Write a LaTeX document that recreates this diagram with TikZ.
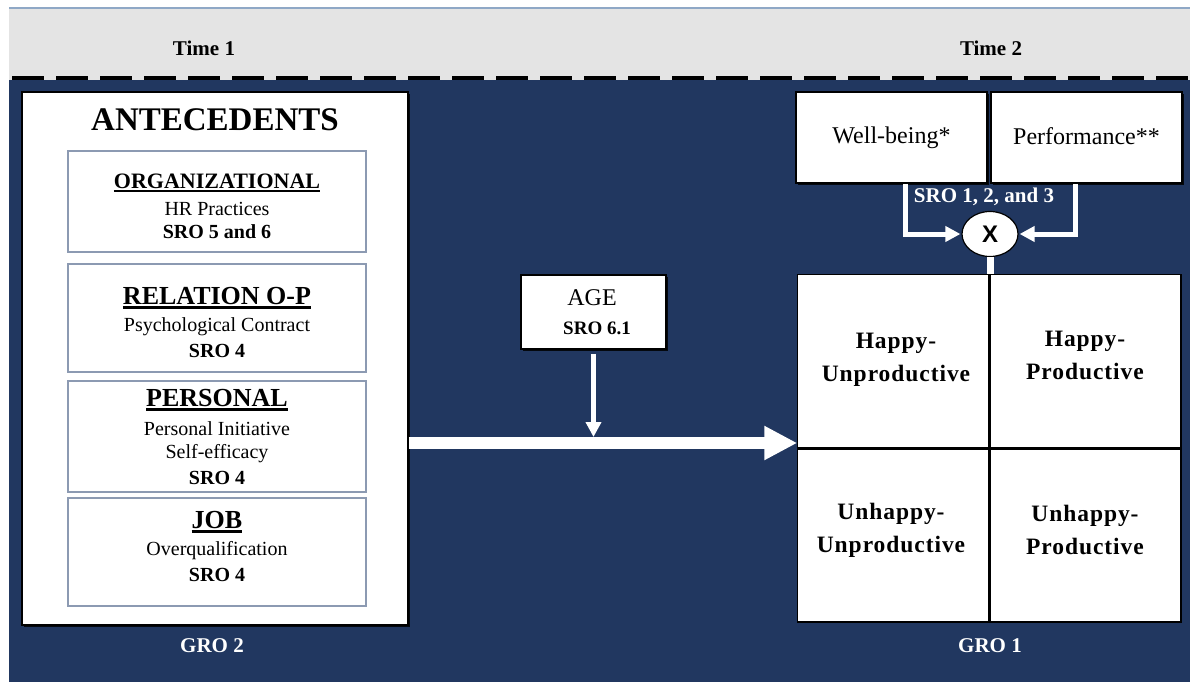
\documentclass[tikz,border=0pt]{standalone}
\usepackage{fontspec}
\setmainfont{Liberation Serif}
\newfontfamily\xsansfont{Liberation Sans}
\newfontfamily\spacedserif[LetterSpace=4]{Liberation Serif}
\usetikzlibrary{arrows.meta,shadows,shapes.geometric}
\definecolor{navy}{HTML}{213760}
\definecolor{bandgray}{HTML}{E4E4E4}
\definecolor{topedge}{HTML}{8FA8C6}
\definecolor{subedge}{HTML}{8C9AB2}
\newcommand\hdrul[1]{\setbox0\hbox{#1}\rlap{\rule[-4pt]{\wd0}{2.2pt}}\box0}
\tikzset{
  mainbox/.style={draw=black, line width=1.5pt, fill=white, inner sep=0pt,
    drop shadow={shadow xshift=2pt, shadow yshift=-2pt, fill=black, opacity=0.85}},
  subbox/.style={draw=subedge, line width=2pt, fill=white, inner sep=0pt, minimum width=298pt},
  cell/.style={draw=black, line width=1.5pt, fill=white, inner sep=0pt, minimum width=191pt, minimum height=173pt},
  txt/.style={inner sep=0pt, anchor=center},
  hdr/.style={txt, font=\fontsize{26}{28}\selectfont\bfseries},
  sub/.style={txt, font=\fontsize{20}{22}\selectfont},
  sro/.style={txt, font=\fontsize{20}{22}\selectfont\bfseries},
  timelab/.style={txt, font=\fontsize{21}{23}\selectfont\bfseries},
  whitelab/.style={txt, text=white, font=\fontsize{21}{23}\selectfont\bfseries},
  quadtxt/.style={txt, align=center, font=\fontsize{23.5}{33}\spacedserif\bfseries},
  conn/.style={draw=white, line width=5pt, -{Triangle[length=15pt,width=15pt]}},
  bigarrow/.style={draw=white, line width=12pt, -{Triangle[length=33pt,width=32pt]}}
}
\begin{document}
\begin{tikzpicture}[x=1pt,y=-1pt]
\useasboundingbox (0,0) rectangle (1190,682);
\fill[white] (0,0) rectangle (1190,682);
% header band and background
\fill[bandgray] (9,8) rectangle (1190,80);
\draw[topedge, line width=1.5pt] (9,8) -- (1190,8);
\fill[navy] (9,80) rectangle (1190,682);
\draw[black, line width=4pt, dash pattern=on 32pt off 12pt] (12,78.5) -- (1190,78.5);
\node[timelab] (time1) at (204,48) {Time 1};
\node[timelab] (time2) at (991,48) {Time 2};

% antecedents
\node[mainbox, minimum width=386pt, minimum height=533pt] (ante) at (215,358.5) {};
\node[txt, font=\fontsize{33}{36}\selectfont\bfseries] (antetitle) at (215,120) {ANTECEDENTS};

\node[subbox, minimum height=101pt] (org) at (217,201.5) {};
\node[txt, font=\fontsize{22}{24}\selectfont\bfseries] (orgh) at (217,183) {\hdrul{ORGANIZATIONAL}};
\node[sub] (orgs) at (217,209) {HR Practices};
\node[sro] (orgr) at (217,232) {SRO 5 and 6};

\node[subbox, minimum height=108pt] (rel) at (217,318) {};
\node[hdr] (relh) at (217,298) {\hdrul{RELATION O-P}};
\node[sub] (rels) at (217,327) {Psychological Contract};
\node[sro] (relr) at (217,351) {SRO 4};

\node[subbox, minimum height=111pt] (per) at (217,436.5) {};
\node[hdr] (perh) at (217,400) {\hdrul{PERSONAL}};
\node[sub] (pers1) at (217,429) {Personal Initiative};
\node[sub] (pers2) at (217,454) {Self-efficacy};
\node[sro] (perr) at (217,478) {SRO 4};

\node[subbox, minimum height=108pt] (job) at (217,552) {};
\node[hdr] (jobh) at (217,522) {\hdrul{JOB}};
\node[sub] (jobs) at (217,551) {Overqualification};
\node[sro] (jobr) at (217,575) {SRO 4};

\node[whitelab] (gro2) at (212,646) {GRO 2};

% age
\node[mainbox, minimum width=145pt, minimum height=74pt] (age) at (593.5,312) {};
\node[txt, font=\fontsize{24}{26}\selectfont] (aget) at (592,298) {AGE};
\node[txt, font=\fontsize{19}{21}\selectfont\bfseries] (ager) at (597,328) {SRO 6.1};

% outcomes
\node[mainbox, minimum width=191pt, minimum height=91pt, font=\fontsize{24}{26}\selectfont] (wb) at (891.5,137.5) {\raisebox{3pt}{Well-being*}};
\node[mainbox, minimum width=191pt, minimum height=91pt, font=\fontsize{24}{26}\selectfont] (perf) at (1086.5,137.5) {\raisebox{3pt}{Performance**}};
\node[whitelab] (sro123) at (984,197) {SRO 1, 2, and 3};
\node[ellipse, draw=black, line width=1.2pt, fill=white, minimum width=56pt, minimum height=45pt, inner sep=0pt,
  font=\fontsize{24}{26}\xsansfont\bfseries] (xnode) at (990,234) {X};

% quadrants
\node[mainbox, minimum width=382pt, minimum height=346pt] (quad) at (989,448) {};
\node[cell, anchor=south east] (hu) at (989,448) {};
\node[cell, anchor=south west] (hp) at (989,448) {};
\node[cell, anchor=north east] (uu) at (989,448) {};
\node[cell, anchor=north west] (up) at (989,448) {};
\node[quadtxt] (hut) at (896,360) {Happy-\\Unproductive};
\node[quadtxt] (hpt) at (1085,355) {Happy-\\Productive};
\node[quadtxt] (uut) at (891,530) {Unhappy-\\Unproductive};
\node[quadtxt] (upt) at (1085,530) {Unhappy-\\Productive};
\node[whitelab] (gro1) at (990,646) {GRO 1};

% connectors
\draw[conn] ([xshift=13.5pt]wb.south) |- ([xshift=-1pt]xnode.west);
\draw[conn] ([xshift=-11.5pt]perf.south) |- ([xshift=1pt]xnode.east);
\draw[draw=white, line width=7pt] (xnode.south) -- (xnode.south |- quad.north);
\coordinate (agetip) at (593.5,437);
\draw[conn, shorten <=4pt] (age.south) -- (agetip);
\coordinate (bigy) at (0,443);
\draw[bigarrow] (ante.east |- bigy) -- (quad.west |- bigy);
\end{tikzpicture}
\end{document}
